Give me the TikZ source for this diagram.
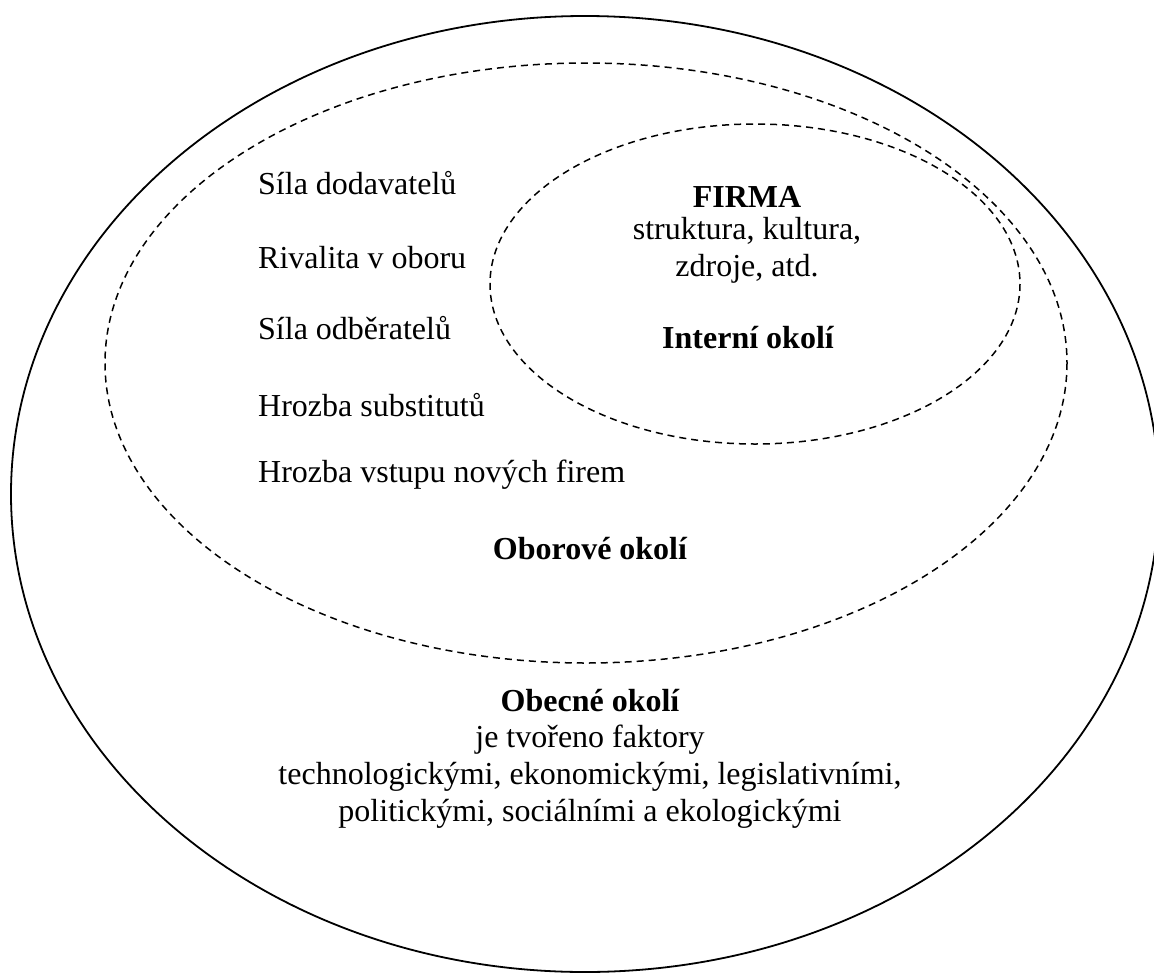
\documentclass[tikz,border=0pt]{standalone}
\usepackage{fontspec}
\setmainfont{Liberation Serif}
\begin{document}
\begin{tikzpicture}[x=1pt,y=-1pt,
  solidring/.style={line width=1.8pt},
  dashring/.style={line width=1.5pt, dash pattern=on 7pt off 5pt},
  txt/.style={inner sep=0pt, font=\fontsize{32}{37}\selectfont},
  lbl/.style={txt, anchor=west},
  ctr/.style={txt, align=center},
  hd/.style={txt, font=\fontsize{32}{37}\selectfont\bfseries}]
\useasboundingbox (0,0) rectangle (1154,972);
\fill[white] (0,0) rectangle (1154,972);
% ellipses
\draw[solidring] (585,494) ellipse [x radius=574, y radius=478];
\draw[dashring] (586,363) ellipse [x radius=481, y radius=300];
\draw[dashring] (755,284) ellipse [x radius=265, y radius=160];
% left list
\node[lbl] (s1) at (258,183) {Síla dodavatelů};
\node[lbl] (s2) at (258,258) {Rivalita v oboru};
\node[lbl] (s3) at (258,328) {Síla odběratelů};
\node[lbl] (s4) at (258,405) {Hrozba substitutů};
\node[lbl] (s5) at (258,475) {Hrozba vstupu nových firem};
% firm
\node[hd] (firma) at (747,197) {FIRMA};
\node[ctr] (firmtxt) at (747,250) {struktura, kultura,\\zdroje, atd.};
\node[hd] (interni) at (748,338) {Interní okolí};
% industry
\node[hd] (oborove) at (590,549) {Oborové okolí};
% general
\node[hd] (obecne) at (590,701) {Obecné okolí};
\node[ctr] (obtxt) at (590,777) {je tvořeno faktory\\technologickými, ekonomickými, legislativními,\\politickými, sociálními a ekologickými};
\end{tikzpicture}
\end{document}
